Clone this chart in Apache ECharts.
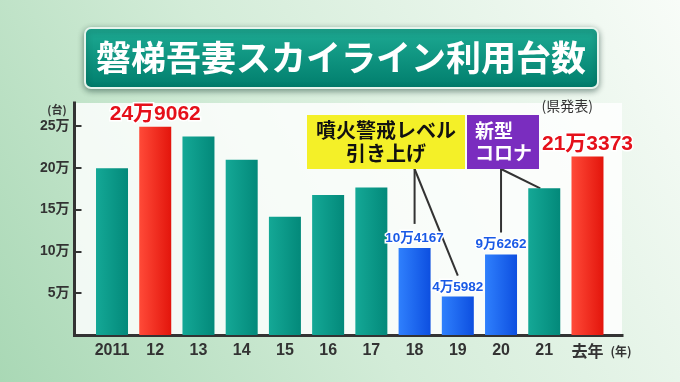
<!DOCTYPE html>
<html><head><meta charset="utf-8">
<script src="https://cdn.jsdelivr.net/npm/echarts@6/dist/echarts.min.js"></script>
<style>html,body{margin:0;padding:0;background:#fff;}#c{width:680px;height:382px;}</style>
</head><body><div id="c"></div>
<script>
// ---- data ----
const categories = ['2011', '12', '13', '14', '15', '16', '17', '18', '19', '20', '21', '去年'];
const values = [199500, 249062, 237500, 209500, 141500, 167500, 176500, 104167, 45982, 96262, 175500, 213373];
const barKinds = ['teal', 'red', 'teal', 'teal', 'teal', 'teal', 'teal', 'blue', 'blue', 'blue', 'teal', 'red'];
const labeledIdx = [1, 7, 8, 9, 11];
const yTicks = [50000, 100000, 150000, 200000, 250000];
const titleText = '磐梯吾妻スカイライン利用台数';
const sourceText = '(県発表)';
const yUnit = '(台)';
const xUnit = '(年)';
const note1 = ['噴火警戒レベル', '引き上げ'];
const note2 = ['新型', 'コロナ'];

// ---- styles ----
const NUMF = "'Liberation Sans','Noto Sans CJK JP',sans-serif";
const JP = "'Noto Sans CJK JP',sans-serif";
const grad = (a, b) => new echarts.graphic.LinearGradient(0, 0, 1, 0, [{offset: 0, color: a}, {offset: 1, color: b}]);
const fills = {
  teal: () => grad('#14a896', '#03897a'),
  red: () => grad('#ff4a38', '#e3150c'),
  blue: () => grad('#2f80fd', '#0d4fe0')
};
const labelStyles = {
  red: {color: '#e5101a', fontSize: 21, distance: 2},
  blue: {color: '#1a5ae6', fontSize: 13.5, distance: 3}
};
const fmtMan = v => Math.floor(v / 10000) + '万' + String(v % 10000).padStart(4, '0');

const seriesData = values.map((v, i) => {
  const kind = barKinds[i];
  const d = {value: v, itemStyle: {color: fills[kind]()}};
  if (labeledIdx.includes(i)) {
    const ls = labelStyles[kind];
    d.label = {
      show: true, position: 'top', distance: ls.distance,
      formatter: p => fmtMan(p.value),
      color: ls.color, fontSize: ls.fontSize, fontWeight: 'bold', fontFamily: NUMF,
      textBorderColor: '#fff', textBorderWidth: 3
    };
  }
  return d;
});

const chart = echarts.init(document.getElementById('c'), null, {renderer: 'canvas'});
const YMAX = 277500;
chart.setOption({
  animation: false,
  backgroundColor: new echarts.graphic.LinearGradient(0, 1, 1, 0, [
    {offset: 0, color: '#a9d8b5'}, {offset: 0.45, color: '#d3ecd8'}, {offset: 1, color: '#f8fcf8'}
  ]),
  grid: [
    {left: 74.5, right: 58, top: 103, bottom: 47, show: true, backgroundColor: 'rgba(255,255,255,0.82)', borderWidth: 0},
    {left: 90.4, right: 70.9, top: 103, bottom: 47}
  ],
  xAxis: [
    {gridIndex: 0, type: 'value', min: 0, max: 1,
     axisLine: {show: true, lineStyle: {color: '#333', width: 3, cap: 'square'}},
     axisTick: {show: false}, axisLabel: {show: false}, splitLine: {show: false}},
    {gridIndex: 1, type: 'category', data: categories,
     axisLine: {show: false}, axisTick: {show: false},
     axisLabel: {interval: 0, margin: 8, color: '#333', fontSize: 16, fontWeight: 'bold', fontFamily: NUMF,
       formatter: v => v === '去年' ? '{j|' + v + '}' : v,
       rich: {j: {fontSize: 16, fontWeight: 'bold', fontFamily: JP, color: '#333'}}}}
  ],
  yAxis: [
    {gridIndex: 0, type: 'value', min: 0, max: YMAX,
     axisLine: {show: true, lineStyle: {color: '#333', width: 3, cap: 'square'}},
     axisTick: {show: true, inside: true, length: 7, customValues: yTicks, lineStyle: {color: '#333', width: 2}},
     axisLabel: {customValues: yTicks, margin: 5, color: '#333', fontSize: 14, fontWeight: 'bold', fontFamily: NUMF,
       formatter: v => (v / 10000) + '万'},
     splitLine: {show: false}},
    {gridIndex: 1, type: 'value', min: 0, max: YMAX, show: false, splitLine: {show: false}}
  ],
  series: [{
    type: 'bar', xAxisIndex: 1, yAxisIndex: 1, barWidth: 32, data: seriesData
  }]
});

// ---- annotations (connectors anchored to bars through the library's scales) ----
const px = (i, v) => chart.convertToPixel({xAxisIndex: 1, yAxisIndex: 1}, [i, v]);
const top18 = px(7, values[7]), top19 = px(8, values[8]), top20 = px(9, values[9]), top21 = px(10, values[10]);
const boxBottom = 169;
const lineStyle = {stroke: '#333', lineWidth: 2};

chart.setOption({
  graphic: [
    {type: 'rect', shape: {x: 85, y: 28, width: 513, height: 60, r: 6},
     style: {fill: new echarts.graphic.LinearGradient(0, 0, 0, 1, [{offset: 0, color: '#1eab94'}, {offset: 1, color: '#007d6c'}]),
       stroke: '#e6f4ec', lineWidth: 2, shadowBlur: 6, shadowColor: 'rgba(0,40,30,0.45)', shadowOffsetY: 2}},
    {type: 'text', x: 341, y: 58,
     style: {text: titleText, fill: '#fff', font: "bold 35px 'Noto Sans CJK JP'", align: 'center', verticalAlign: 'middle',
       shadowBlur: 3, shadowColor: 'rgba(0,30,25,0.8)', shadowOffsetX: 1, shadowOffsetY: 2}},
    {type: 'text', x: 593, y: 106,
     style: {text: sourceText, fill: '#333', font: "14px 'Noto Sans CJK JP'", align: 'right', verticalAlign: 'middle'}},
    {type: 'text', x: 57, y: 110,
     style: {text: yUnit, fill: '#333', font: "bold 11px 'Noto Sans CJK JP'", align: 'center', verticalAlign: 'middle'}},
    {type: 'text', x: 621, y: 351,
     style: {text: xUnit, fill: '#333', font: "bold 12px 'Noto Sans CJK JP'", align: 'center', verticalAlign: 'middle'}},
    // connectors
    {type: 'polyline', shape: {points: [[top18[0], boxBottom], [top18[0], top18[1] - 24]]}, style: lineStyle},
    {type: 'polyline', shape: {points: [[top18[0], boxBottom], [top19[0], top19[1] - 21]]}, style: lineStyle},
    {type: 'polyline', shape: {points: [[top20[0], boxBottom], [top20[0], top20[1] - 22]]}, style: lineStyle},
    {type: 'polyline', shape: {points: [[top20[0], boxBottom], [top21[0] - 4, top21[1]]]}, style: lineStyle},
    // note boxes
    {type: 'rect', shape: {x: 307, y: 115, width: 158, height: 54}, style: {fill: '#f4f028'}},
    {type: 'text', x: 386, y: 130,
     style: {text: note1[0], fill: '#111', font: "bold 20px 'Noto Sans CJK JP'", align: 'center', verticalAlign: 'middle'}},
    {type: 'text', x: 386, y: 153,
     style: {text: note1[1], fill: '#111', font: "bold 20px 'Noto Sans CJK JP'", align: 'center', verticalAlign: 'middle'}},
    {type: 'rect', shape: {x: 467, y: 115, width: 72, height: 54}, style: {fill: '#7a2dbf'}},
    {type: 'text', x: 475, y: 131,
     style: {text: note2[0], fill: '#fff', font: "bold 19px 'Noto Sans CJK JP'", align: 'left', verticalAlign: 'middle'}},
    {type: 'text', x: 475, y: 153,
     style: {text: note2[1], fill: '#fff', font: "bold 19px 'Noto Sans CJK JP'", align: 'left', verticalAlign: 'middle'}}
  ]
});
</script>
</body></html>
